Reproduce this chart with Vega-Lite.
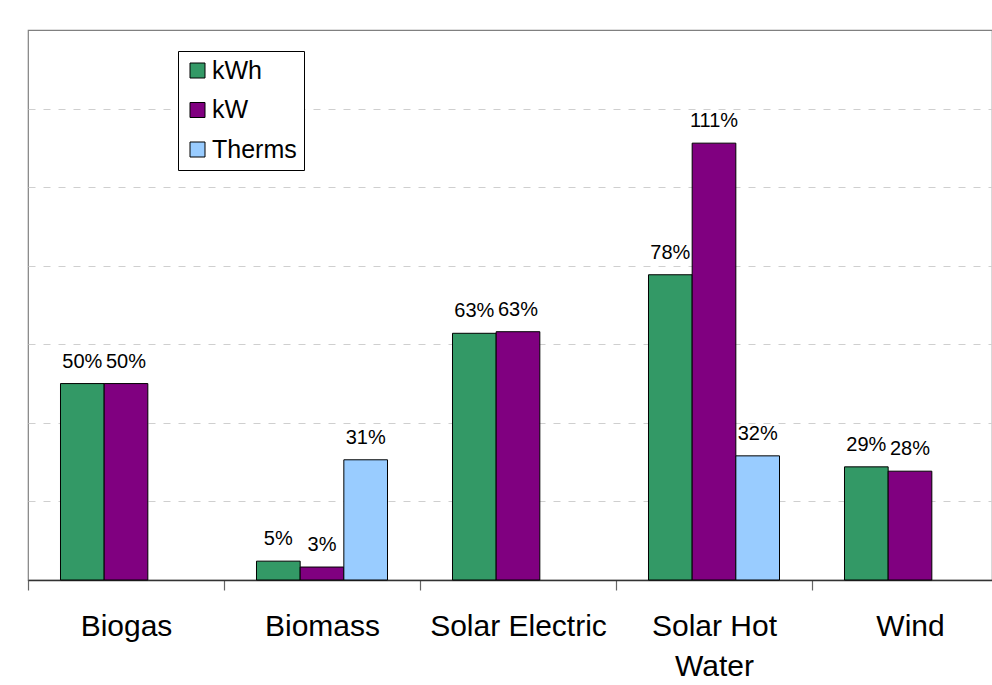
{
  "$schema": "https://vega.github.io/schema/vega-lite/v6.json",
  "width": 964,
  "height": 550,
  "autosize": {"type": "none"},
  "padding": {"left": 28, "top": 30, "right": 0, "bottom": 105},
  "background": "white",
  "config": {
    "font": "Liberation Sans",
    "view": {"stroke": "#808080", "strokeWidth": 1.2},
    "legend": {
      "orient": "none",
      "legendX": 150,
      "legendY": 21,
      "fillColor": "white",
      "strokeColor": "black",
      "strokeWidth": 1,
      "padding": 7,
      "labelFontSize": 25,
      "labelFont": "Liberation Sans",
      "labelColor": "black",
      "symbolType": "square",
      "symbolSize": 225,
      "symbolStrokeColor": "black",
      "symbolStrokeWidth": 1,
      "symbolOpacity": 1,
      "rowPadding": 13.5,
      "labelOffset": 2,
      "title": null
    }
  },
  "data": {
    "values": [
      {"category": "Biogas", "series": "kWh", "value": 0.50},
      {"category": "Biogas", "series": "kW", "value": 0.50},
      {"category": "Biomass", "series": "kWh", "value": 0.048},
      {"category": "Biomass", "series": "kW", "value": 0.033},
      {"category": "Biomass", "series": "Therms", "value": 0.306},
      {"category": "Solar Electric", "series": "kWh", "value": 0.628},
      {"category": "Solar Electric", "series": "kW", "value": 0.632},
      {"category": "Solar Hot Water", "series": "kWh", "value": 0.777},
      {"category": "Solar Hot Water", "series": "kW", "value": 1.112},
      {"category": "Solar Hot Water", "series": "Therms", "value": 0.316},
      {"category": "Wind", "series": "kWh", "value": 0.288},
      {"category": "Wind", "series": "kW", "value": 0.277}
    ]
  },
  "encoding": {
    "x": {
      "field": "category",
      "type": "nominal",
      "sort": ["Biogas", "Biomass", "Solar Electric", "Solar Hot Water", "Wind"],
      "scale": {"range": [0, 980], "paddingInner": 0, "paddingOuter": 0},
      "title": null,
      "axis": {
        "labelAngle": 0,
        "labelFontSize": 30,
        "labelColor": "black",
        "labelFont": "Liberation Sans",
        "labelPadding": 21,
        "labelLineHeight": 40,
        "labelExpr": "datum.value == 'Solar Hot Water' ? ['Solar Hot', 'Water'] : datum.value",
        "tickBand": "extent",
        "tickSize": 10,
        "tickColor": "#666666",
        "tickWidth": 1.2,
        "domainColor": "#333333",
        "domainWidth": 1.3,
        "grid": false
      }
    },
    "xOffset": {
      "field": "series",
      "type": "nominal",
      "scale": {"domain": ["kWh", "kW", "Therms"], "paddingInner": 0, "paddingOuter": 0.744}
    },
    "y": {
      "field": "value",
      "type": "quantitative",
      "scale": {"domain": [0, 1.4], "nice": false, "zero": true},
      "title": null,
      "axis": {
        "values": [0.2, 0.4, 0.6, 0.8, 1.0, 1.2],
        "grid": true,
        "gridDash": [7, 8],
        "gridColor": "#cfcfcf",
        "gridWidth": 1,
        "domain": false,
        "ticks": false,
        "labels": false
      }
    }
  },
  "layer": [
    {
      "mark": {"type": "bar", "stroke": "black", "strokeWidth": 1},
      "encoding": {
        "color": {
          "field": "series",
          "type": "nominal",
          "scale": {"domain": ["kWh", "kW", "Therms"], "range": ["#339966", "#800080", "#99CCFF"]},
          "legend": {"title": null}
        }
      }
    },
    {
      "mark": {"type": "text", "baseline": "alphabetic", "dy": -16, "fontSize": 20, "color": "black", "font": "Liberation Sans"},
      "encoding": {
        "text": {"field": "value", "type": "quantitative", "format": ".0%"}
      }
    }
  ]
}
